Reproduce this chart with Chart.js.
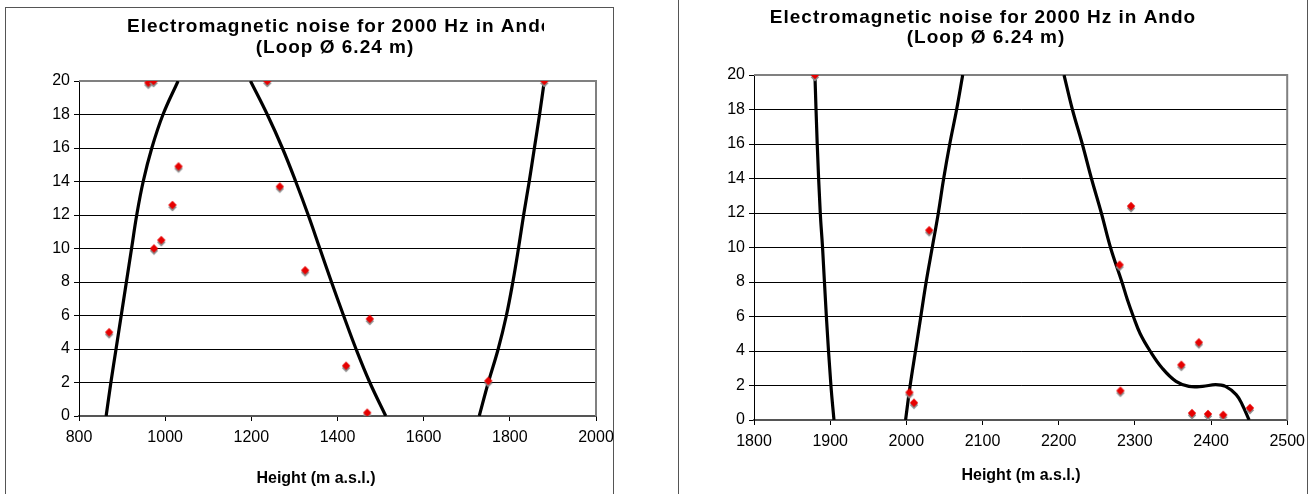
<!DOCTYPE html>
<html>
<head>
<meta charset="utf-8">
<script src="https://cdn.jsdelivr.net/npm/chart.js@4"></script>
<style>
  body { margin: 0; background: #fff; width: 1312px; height: 494px; overflow: hidden; position: relative; }
  .panel { position: absolute; border: 1px solid #555; background: #fff; }
  #panelLeft { left: 5px; top: 7px; width: 607px; height: 500px; }
  #panelRight { left: 678px; top: -10px; width: 628px; height: 520px; }
  canvas { position: absolute; top: 0; }
  #chartLeft { left: 0; }
  #chartRight { left: 656px; }
</style>
</head>
<body>
<div class="panel" id="panelLeft"></div>
<div class="panel" id="panelRight"></div>
<canvas id="chartLeft" width="656" height="494"></canvas>
<canvas id="chartRight" width="656" height="494"></canvas>
<script>
// measured noise (left: lower sites, right: upper sites)
const leftX = [870, 961, 973, 974, 991, 1017, 1031, 1237, 1266, 1325, 1420, 1469, 1475, 1750, 1880];
const leftY = [5.0, 19.9, 20, 10.0, 10.5, 12.6, 14.9, 20, 13.7, 8.7, 3.0, 0.2, 5.8, 2.1, 20];
const rightX = [1880, 2004, 2010, 2030, 2280, 2281, 2295, 2361, 2375, 2384, 2396, 2416, 2451];
const rightY = [20, 1.6, 1.0, 11.0, 9.0, 1.7, 12.4, 3.2, 0.4, 4.5, 0.35, 0.3, 0.7];

// trendline pieces
const leftTrend1X = [863, 874, 886, 898, 910, 922, 934, 949, 969, 995, 1030];
const leftTrend1Y = [0, 2, 4, 6, 8, 10, 12, 14, 16, 18, 20];
const leftTrend2X = [1198, 1237, 1272, 1303, 1332, 1359, 1386, 1414, 1443, 1475, 1512];
const leftTrend2Y = [20, 18, 16, 14, 12, 10, 8, 6, 4, 2, 0];
const leftTrend3X = [1729, 1750, 1773, 1792, 1807, 1820, 1832, 1845, 1857, 1869, 1880];
const leftTrend3Y = [0, 2, 4, 6, 8, 10, 12, 14, 16, 18, 20];

const rightTrend1X = [1880, 1883, 1887, 1890, 1895, 1901, 1905];
const rightTrend1Y = [20, 16, 12, 10, 6, 2, 0];
const rightTrend2X = [1999, 2005, 2012, 2019, 2026, 2034, 2042, 2049, 2057, 2066, 2074];
const rightTrend2Y = [0, 2, 4, 6, 8, 10, 12, 14, 16, 18, 20];
const rightTrend3X = [2207, 2218, 2231, 2243, 2256, 2268, 2283, 2290, 2298, 2307, 2320, 2336, 2354, 2371, 2389, 2406, 2419, 2433, 2441, 2450];
const rightTrend3Y = [20, 18, 16, 14, 12, 10, 8, 7, 6, 5, 4, 3.0, 2.24, 1.95, 1.95, 2.05, 1.95, 1.47, 0.89, 0];

const leftTicksX = { min: 800, max: 2000, step: 200 };
const rightTicksX = { min: 1800, max: 2500, step: 100 };
const ticksY = { min: 0, max: 20, step: 2 };

const titleLine1 = 'Electromagnetic noise for 2000 Hz in Ando';
const titleLine2 = '(Loop Ø 6.24 m)';
const axisTitle = 'Height (m a.s.l.)';

const FONT = "'Liberation Sans', Arial, sans-serif";

// red diamond with a grey shadow underneath
const marker = document.createElement('canvas');
marker.width = 12;
marker.height = 16;
(function () {
  const c = marker.getContext('2d');
  const diamond = (cx, cy, r, col) => {
    c.fillStyle = col;
    c.beginPath();
    c.moveTo(cx, cy - r);
    c.lineTo(cx + r, cy);
    c.lineTo(cx, cy + r);
    c.lineTo(cx - r, cy);
    c.closePath();
    c.fill();
  };
  diamond(6, 10.3, 4.2, '#8c8c8c');
  diamond(6, 8, 4.2, '#e60000');
})();

const zip = (xs, ys) => xs.map((x, i) => ({ x: x, y: ys[i] }));

const trendSet = (xs, ys) => ({
  type: 'line',
  data: zip(xs, ys),
  borderColor: '#000',
  borderWidth: 3.2,
  pointRadius: 0,
  fill: false,
  tension: 0.4
});

// titles and the grey frame of the plot area
const textPlugin = {
  id: 'textPlugin',
  beforeDatasetsDraw(chart, args, opts) {
    const { ctx, chartArea: a } = chart;
    ctx.save();
    ctx.strokeStyle = '#808080';
    ctx.lineWidth = 2;
    ctx.beginPath();
    ctx.moveTo(a.left, a.top);
    ctx.lineTo(a.right, a.top);
    ctx.lineTo(a.right, a.bottom);
    ctx.stroke();
    ctx.restore();
  },
  afterDraw(chart, args, opts) {
    const ctx = chart.ctx;
    ctx.save();
    ctx.fillStyle = '#000';
    ctx.font = 'bold 19px ' + FONT;
    if ('letterSpacing' in ctx) ctx.letterSpacing = '1px';
    ctx.save();
    if (opts.clipRight) {
      ctx.beginPath();
      ctx.rect(0, 0, opts.clipRight, 40);
      ctx.clip();
    }
    if (opts.line1Left !== undefined) {
      ctx.textAlign = 'left';
      ctx.fillText(titleLine1, opts.line1Left, opts.line1Y);
    } else {
      ctx.textAlign = 'center';
      ctx.fillText(titleLine1, opts.line1X, opts.line1Y);
    }
    ctx.restore();
    ctx.textAlign = 'center';
    ctx.fillText(titleLine2, opts.line2X, opts.line2Y);
    if ('letterSpacing' in ctx) ctx.letterSpacing = '0px';
    ctx.font = 'bold 16px ' + FONT;
    ctx.fillText(axisTitle, opts.axisX, opts.axisY);
    ctx.restore();
  }
};

function makeChart(id, points, trends, xr, pad, xHeight, textOpts) {
  return new Chart(document.getElementById(id), {
    type: 'scatter',
    data: {
      datasets: [{
        data: points,
        pointStyle: marker,
        pointRadius: 4,
        pointHoverRadius: 4
      }].concat(trends)
    },
    options: {
      responsive: false,
      animation: false,
      events: [],
      layout: { padding: pad },
      plugins: {
        legend: { display: false },
        tooltip: { enabled: false },
        textPlugin: textOpts
      },
      scales: {
        x: {
          type: 'linear',
          min: xr.min,
          max: xr.max,
          afterFit: (s) => { s.height = xHeight; },
          ticks: {
            stepSize: xr.step,
            color: '#000',
            padding: 7,
            maxRotation: 0,
            callback: (v) => String(v),
            font: { family: FONT, size: 16 }
          },
          grid: { drawOnChartArea: false, tickLength: 5, tickColor: '#000' },
          border: { color: '#555', width: 2 }
        },
        y: {
          min: ticksY.min,
          max: ticksY.max,
          afterFit: (s) => { s.width = 40; },
          ticks: {
            stepSize: ticksY.step,
            color: '#000',
            padding: 4,
            callback: (v) => String(v),
            font: { family: FONT, size: 16 }
          },
          grid: {
            color: (c) => (c.tick && c.tick.value === ticksY.max ? 'rgba(0,0,0,0)' : '#000'),
            tickColor: '#000',
            tickLength: 5,
            lineWidth: 1
          },
          border: { color: '#000', width: 1 }
        }
      }
    },
    plugins: [textPlugin]
  });
}

makeChart('chartLeft',
  zip(leftX, leftY),
  [trendSet(leftTrend1X, leftTrend1Y), trendSet(leftTrend2X, leftTrend2Y), trendSet(leftTrend3X, leftTrend3Y)],
  leftTicksX,
  { left: 39, right: 60, top: 81, bottom: 0 },
  78,
  { line1Left: 127, clipRight: 544, line1Y: 32, line2X: 335, line2Y: 53, axisX: 316, axisY: 483 });

makeChart('chartRight',
  zip(rightX, rightY),
  [trendSet(rightTrend1X, rightTrend1Y), trendSet(rightTrend2X, rightTrend2Y), trendSet(rightTrend3X, rightTrend3Y)],
  rightTicksX,
  { left: 58, right: 24, top: 75, bottom: 0 },
  74,
  { line1X: 327, line1Y: 23, line2X: 330, line2Y: 43, axisX: 365, axisY: 480 });
</script>
</body>
</html>
